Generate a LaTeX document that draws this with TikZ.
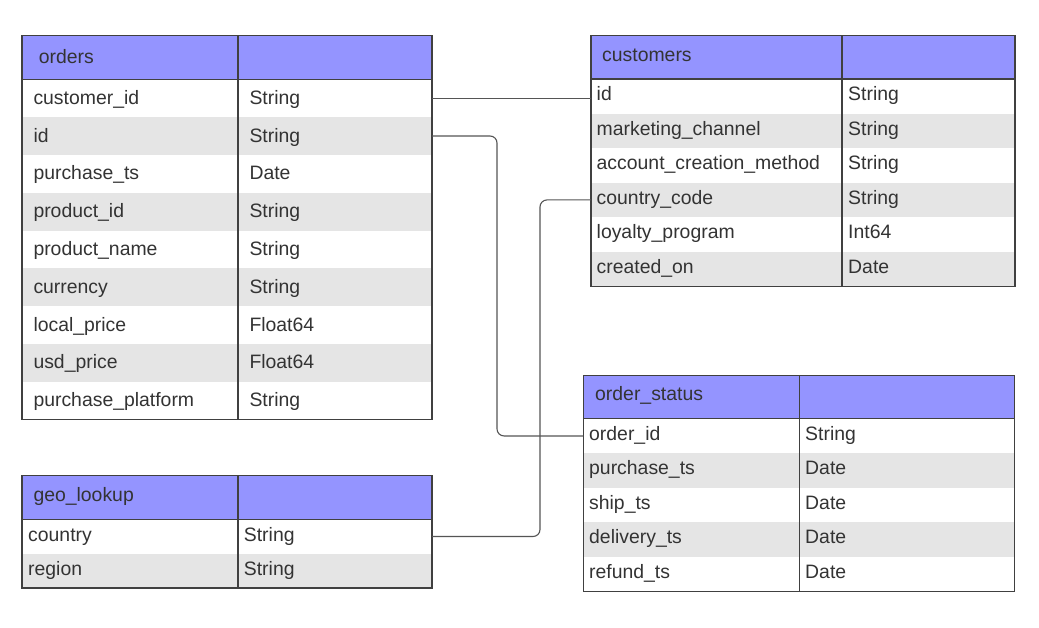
\documentclass[tikz,border=0pt]{standalone}
\usepackage{fontspec}
\setmainfont{Liberation Sans}
\definecolor{hdrfill}{RGB}{148,148,255}
\definecolor{stripe}{RGB}{229,229,229}
\definecolor{ink}{RGB}{51,51,51}
\definecolor{edge}{RGB}{64,64,64}
\definecolor{wire}{RGB}{85,85,85}
\tikzset{
  hdr/.style={fill=hdrfill, draw=none, inner sep=0pt, outer sep=0pt},
  rowbox/.style={draw=none, inner sep=0pt, outer sep=0pt},
  txt/.style={inner sep=0pt, text=ink, font=\fontsize{19.4}{22}\selectfont},
  border/.style={draw=edge, line width=1.3pt},
  conn/.style={draw=wire, line width=1.1pt, rounded corners=7pt},
}
% #1 id, #2 title, #3 left, #4 divider, #5 right, #6 top, #7 header bottom, #8 row height, #9 rows
\newcommand\erdtab[9]{%
  \node[hdr, minimum width={#5-#3}, minimum height={#7-#6}, anchor=north west] (#1-h) at (#3,#6) {};
  \node[txt, anchor=base west] (#1-title) at ({#3+\hpad},{(#6+#7)/2+\hoff}) {#2};
  \foreach [count=\i] \fld/\typ in {#9} {
    \pgfmathsetmacro\ytop{#7+(\i-1)*#8}
    \pgfmathtruncatemacro\odd{mod(\i,2)}
    \ifnum\odd=0 \def\rowfill{stripe}\else\def\rowfill{white}\fi
    \node[rowbox, fill=\rowfill, minimum width={#5-#3}, minimum height={#8}, anchor=north west] (#1-\i) at (#3,\ytop) {};
    \node[txt, anchor=base west] (#1-\i-f) at ({#3+\rpad},{\ytop+#8/2+\boff}) {\fld};
    \node[txt, anchor=base west] (#1-\i-t) at ({#4+\tpad},{\ytop+#8/2+\boff}) {\typ};
    \xdef\lastrow{\i}
  }
  \coordinate (#1-divtop) at (#4,#6);
  \draw[border] (#1-h.north west) rectangle (#1-\lastrow.south east);
  \draw[border] (#1-h.south west) -- (#1-h.south east);
  \draw[border] (#1-divtop) -- (#1-divtop |- #1-\lastrow.south);
}
\begin{document}
\begin{tikzpicture}[x=1pt,y=-1pt]
\useasboundingbox[fill=white] (0,0) rectangle (1039,627);

\def\hpad{16.7}\def\rpad{11.3}\def\tpad{11.3}\def\hoff{6}\def\boff{6}
\erdtab{orders}{orders}{22}{238}{432}{35.5}{79.3}{37.8}{customer\_id/String, id/String, purchase\_ts/Date, product\_id/String, product\_name/String, currency/String, local\_price/Float64, usd\_price/Float64, purchase\_platform/String}

\def\hpad{11}\def\rpad{5.5}\def\tpad{6}\def\hoff{3.8}\def\boff{4.4}
\erdtab{customers}{customers}{591}{842}{1015}{35.7}{79}{34.55}{id/String, marketing\_channel/String, account\_creation\_method/String, country\_code/String, loyalty\_program/Int64, created\_on/Date}

\def\hpad{11.7}\def\rpad{5.7}\def\tpad{5.7}\def\hoff{3.8}\def\boff{4.2}
\erdtab{os}{order\_status}{583.3}{799.3}{1014.7}{375.3}{418.7}{34.5}{order\_id/String, purchase\_ts/Date, ship\_ts/Date, delivery\_ts/Date, refund\_ts/Date}

\def\hpad{11.3}\def\rpad{6}\def\tpad{5.7}\def\hoff{4.2}\def\boff{4.5}
\erdtab{geo}{geo\_lookup}{22}{238}{432}{475.7}{519.3}{34.4}{country/String, region/String}

\draw[conn] (orders-1.east) -- (orders-1.east -| customers-1.west);
\draw[conn] (orders-2.east) -- ++(65,0) |- (os-1.west);
\draw[conn] (geo-1.east) -- ++(108,0) |- (customers-4.west);
\end{tikzpicture}
\end{document}
